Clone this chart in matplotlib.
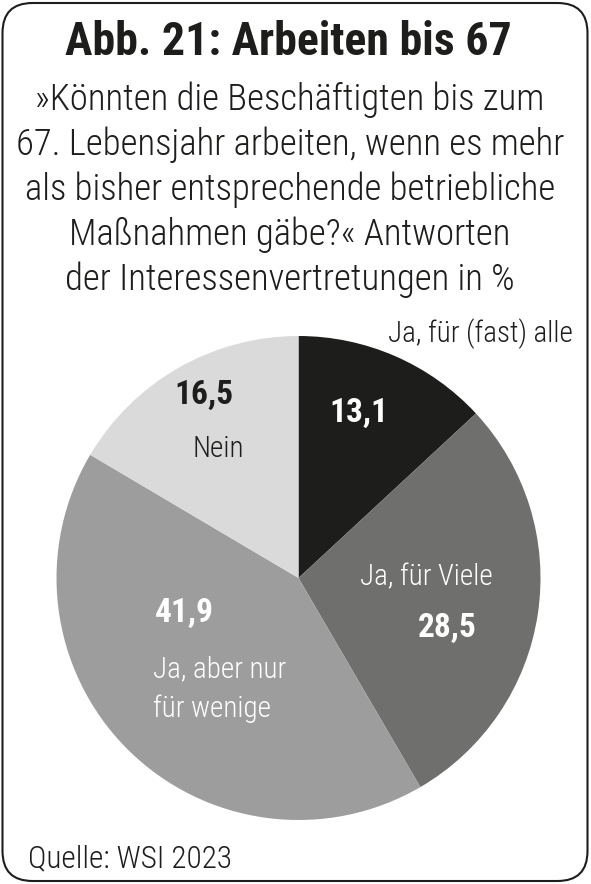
import matplotlib
matplotlib.use("Agg")
import matplotlib.pyplot as plt
from matplotlib import font_manager
from matplotlib.patches import FancyBboxPatch


# =========================================================
# DATA
# =========================================================

title = "Abb. 21: Arbeiten bis 67"
subtitle_lines = [
    "»Könnten die Beschäftigten bis zum",
    "67. Lebensjahr arbeiten, wenn es mehr",
    "als bisher entsprechende betriebliche",
    "Maßnahmen gäbe?« Antworten",
    "der Interessenvertretungen in %",
]
source = "Quelle: WSI 2023"

categories = ["Ja, für (fast) alle", "Ja, für Viele", "Ja, aber nur\nfür wenige", "Nein"]
shares = [13.1, 28.5, 41.9, 16.5]
slice_colors = ["#1d1d1b", "#6f6f6e", "#9d9d9d", "#dadada"]


# =========================================================
# FONT
# =========================================================

names = {f.name for f in font_manager.fontManager.ttflist}
FONT = "DejaVu Sans"
for cand in ["Roboto Condensed", "Liberation Sans Narrow", "Open Sans Condensed", "DejaVu Sans"]:
    if cand in names:
        FONT = cand
        break
plt.rcParams["font.family"] = [FONT, "DejaVu Sans"]
plt.rcParams["font.stretch"] = "condensed"


# =========================================================
# FIGURE (axes in pixel units, y measured from top)
# =========================================================

W, H = 591, 884
fig = plt.figure(figsize=(W / 100, H / 100), dpi=100)
ax = fig.add_axes([0, 0, 1, 1])


def Y(y):
    return H - y


# Pie
ax.pie(
    shares,
    colors=slice_colors,
    startangle=90,
    counterclock=False,
    center=(298.5, Y(578)),
    radius=242,
    wedgeprops=dict(linewidth=0),
    frame=True,
)

ax.set_xlim(0, W)
ax.set_ylim(0, H)
ax.set_aspect("equal")
ax.axis("off")

# Rounded frame
frame = FancyBboxPatch(
    (2.5, Y(881)), 585, 878,
    boxstyle="round,pad=0,rounding_size=30",
    fill=False, edgecolor="#1d1d1b", linewidth=1.5,
)
ax.add_patch(frame)

# Title + subtitle
ax.text(288, Y(55), title, ha="center", va="baseline",
        fontsize=33, fontweight="bold", color="#1d1d1b")

for i, line in enumerate(subtitle_lines):
    ax.text(290, Y(110 + 45 * i), line, ha="center", va="baseline",
            fontsize=26.5, fontweight="light", color="#1d1d1b")

# Slice labels
value_pos = [(359, 422), (447.5, 637), (184, 622), (203.5, 404)]
value_col = ["white", "white", "white", "#1d1d1b"]
for v, (x, y), c in zip(shares, value_pos, value_col):
    ax.text(x, Y(y), f"{v:.1f}".replace(".", ","), ha="center", va="baseline",
            fontsize=24, fontweight="bold", color=c)

name_pos = [(573, 342, "right"), (426, 585, "center"), (153, 677, "left"), (218.5, 457, "center")]
name_col = ["#1d1d1b", "white", "white", "#1d1d1b"]
for lab, (x, y, ha), c in zip(categories, name_pos, name_col):
    for j, part in enumerate(lab.split("\n")):
        ax.text(x, Y(y + 40 * j), part, ha=ha, va="baseline", fontsize=21,
                fontweight="light", color=c)

# Source
ax.text(28, Y(867), source, ha="left", va="baseline",
        fontsize=22.5, fontweight="light", color="#1d1d1b")

fig.savefig("out.png", dpi=100)
